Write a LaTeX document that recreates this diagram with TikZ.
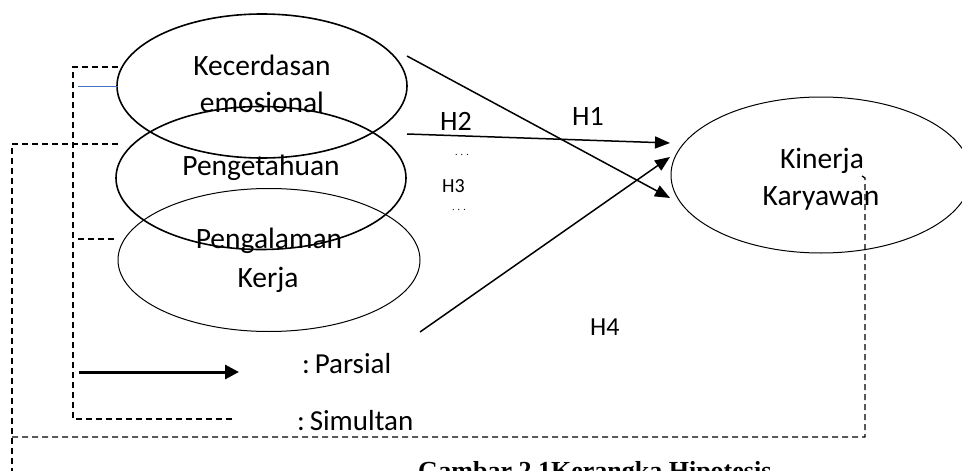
\documentclass[tikz,border=0pt]{standalone}
\usepackage{fontspec}
\setmainfont{Carlito}
\newfontfamily\capfont{Liberation Serif}
\usetikzlibrary{shapes.geometric,arrows.meta}
\definecolor{lineblue}{RGB}{68,114,196}
\tikzset{
  ell/.style={draw, ellipse, inner sep=0pt},
  thickell/.style={ell, line width=1.6pt},
  thinell/.style={ell, line width=1pt},
  lbl/.style={anchor=base, inner sep=0pt, font=\fontsize{29.5}{31}\selectfont},
  lblw/.style={anchor=base west, inner sep=0pt, font=\fontsize{28}{30}\selectfont},
  arr/.style={-{Triangle[length=15pt,width=12pt]}, line width=1.5pt},
  legarr/.style={-{Triangle[length=14pt,width=14pt]}, line width=3pt},
  dsh/.style={line width=1.3pt, dash pattern=on 6pt off 4pt},
}
\begin{document}
\begin{tikzpicture}[x=1pt,y=-1pt]
\useasboundingbox (0,0) rectangle (962,471);
% ellipses
\node[thickell, minimum width=290pt, minimum height=144pt] (kec) at (262,86) {};
\node[thickell, minimum width=290pt, minimum height=143pt] (pen) at (261,178) {};
\node[thinell, minimum width=302pt, minimum height=143pt] (pal) at (269,260) {};
\node[thinell, minimum width=300pt, minimum height=156pt] (kin) at (821,175) {};
% texts
\node[lbl] (t1) at (262,75) {Kecerdasan};
\node[lbl] (t2) at (262,112) {emosional};
\node[lbl] (t3) at (261,175) {Pengetahuan};
\node[lbl] (t4) at (269,248) {Pengalaman};
\node[lbl] (t5) at (268,287) {Kerja};
\node[lbl] (t6) at (822,168) {Kinerja};
\node[lbl] (t7) at (821,205) {Karyawan};
% hypothesis labels
\node[lblw] (h2) at (440,130) {H2};
\node[lblw] (h1) at (572,125) {H1};
\node[lblw, font=\fontsize{20}{22}\selectfont] (h3) at (442,192) {H3};
\node[lblw, font=\fontsize{26}{28}\selectfont] (h4) at (590,335) {H4};
\node[lblw, font=\fontsize{10}{11}\selectfont] (d1) at (455,155) {. . .};
\node[lblw, font=\fontsize{10}{11}\selectfont] (d2) at (452,210) {. . .};
% arrow endpoints
\coordinate (h1s) at (407,56);
\coordinate (h1e) at (670,198);
\coordinate (h2s) at (407,134);
\coordinate (h2e) at (670,143);
\coordinate (h4s) at (420,332);
\coordinate (h4e) at (670,157);
\draw[arr] (h1s) -- (h1e);
\draw[arr] (h2s) -- (h2e);
\draw[arr] (h4s) -- (h4e);
% legend
\coordinate (la1) at (79,372);
\coordinate (la2) at (239,372);
\draw[legarr] (la1) -- (la2);
\node[lblw, font=\fontsize{29}{31}\selectfont] (par) at (302,373) {:\,Parsial};
\node[lblw, font=\fontsize{29}{31}\selectfont] (sim) at (297,430) {:\,Simultan};
% dashed connectors
\coordinate (i1) at (118,67);
\coordinate (i2) at (73,67);
\coordinate (i3) at (73,419);
\coordinate (i4) at (235,419);
\draw[dsh] (i1) -- (i2) -- (i3) -- (i4);
\coordinate (m1) at (78,239);
\coordinate (m2) at (116,239);
\draw[dsh] (m1) -- (m2);
\coordinate (o1) at (118,144);
\coordinate (o2) at (12,144);
\coordinate (o3) at (12,480);
\draw[dsh] (o1) -- (o2) -- (o3);
\coordinate (o4) at (12,437);
\coordinate (o5) at (865,437);
\coordinate (o6) at (865,178);
\coordinate (o7) at (862,176);
\draw[dsh] (o4) -- (o5) -- (o6) -- (o7);
% blue line
\coordinate (b1) at (78,86);
\coordinate (b2) at (118,86);
\draw[lineblue, line width=1pt] (b1) -- (b2);
% caption
\node[anchor=base west, inner sep=0pt, font=\capfont\bfseries\fontsize{26}{28}\selectfont] (cap) at (418,479) {Gambar 2.1Kerangka Hipotesis};
\end{tikzpicture}
\end{document}
